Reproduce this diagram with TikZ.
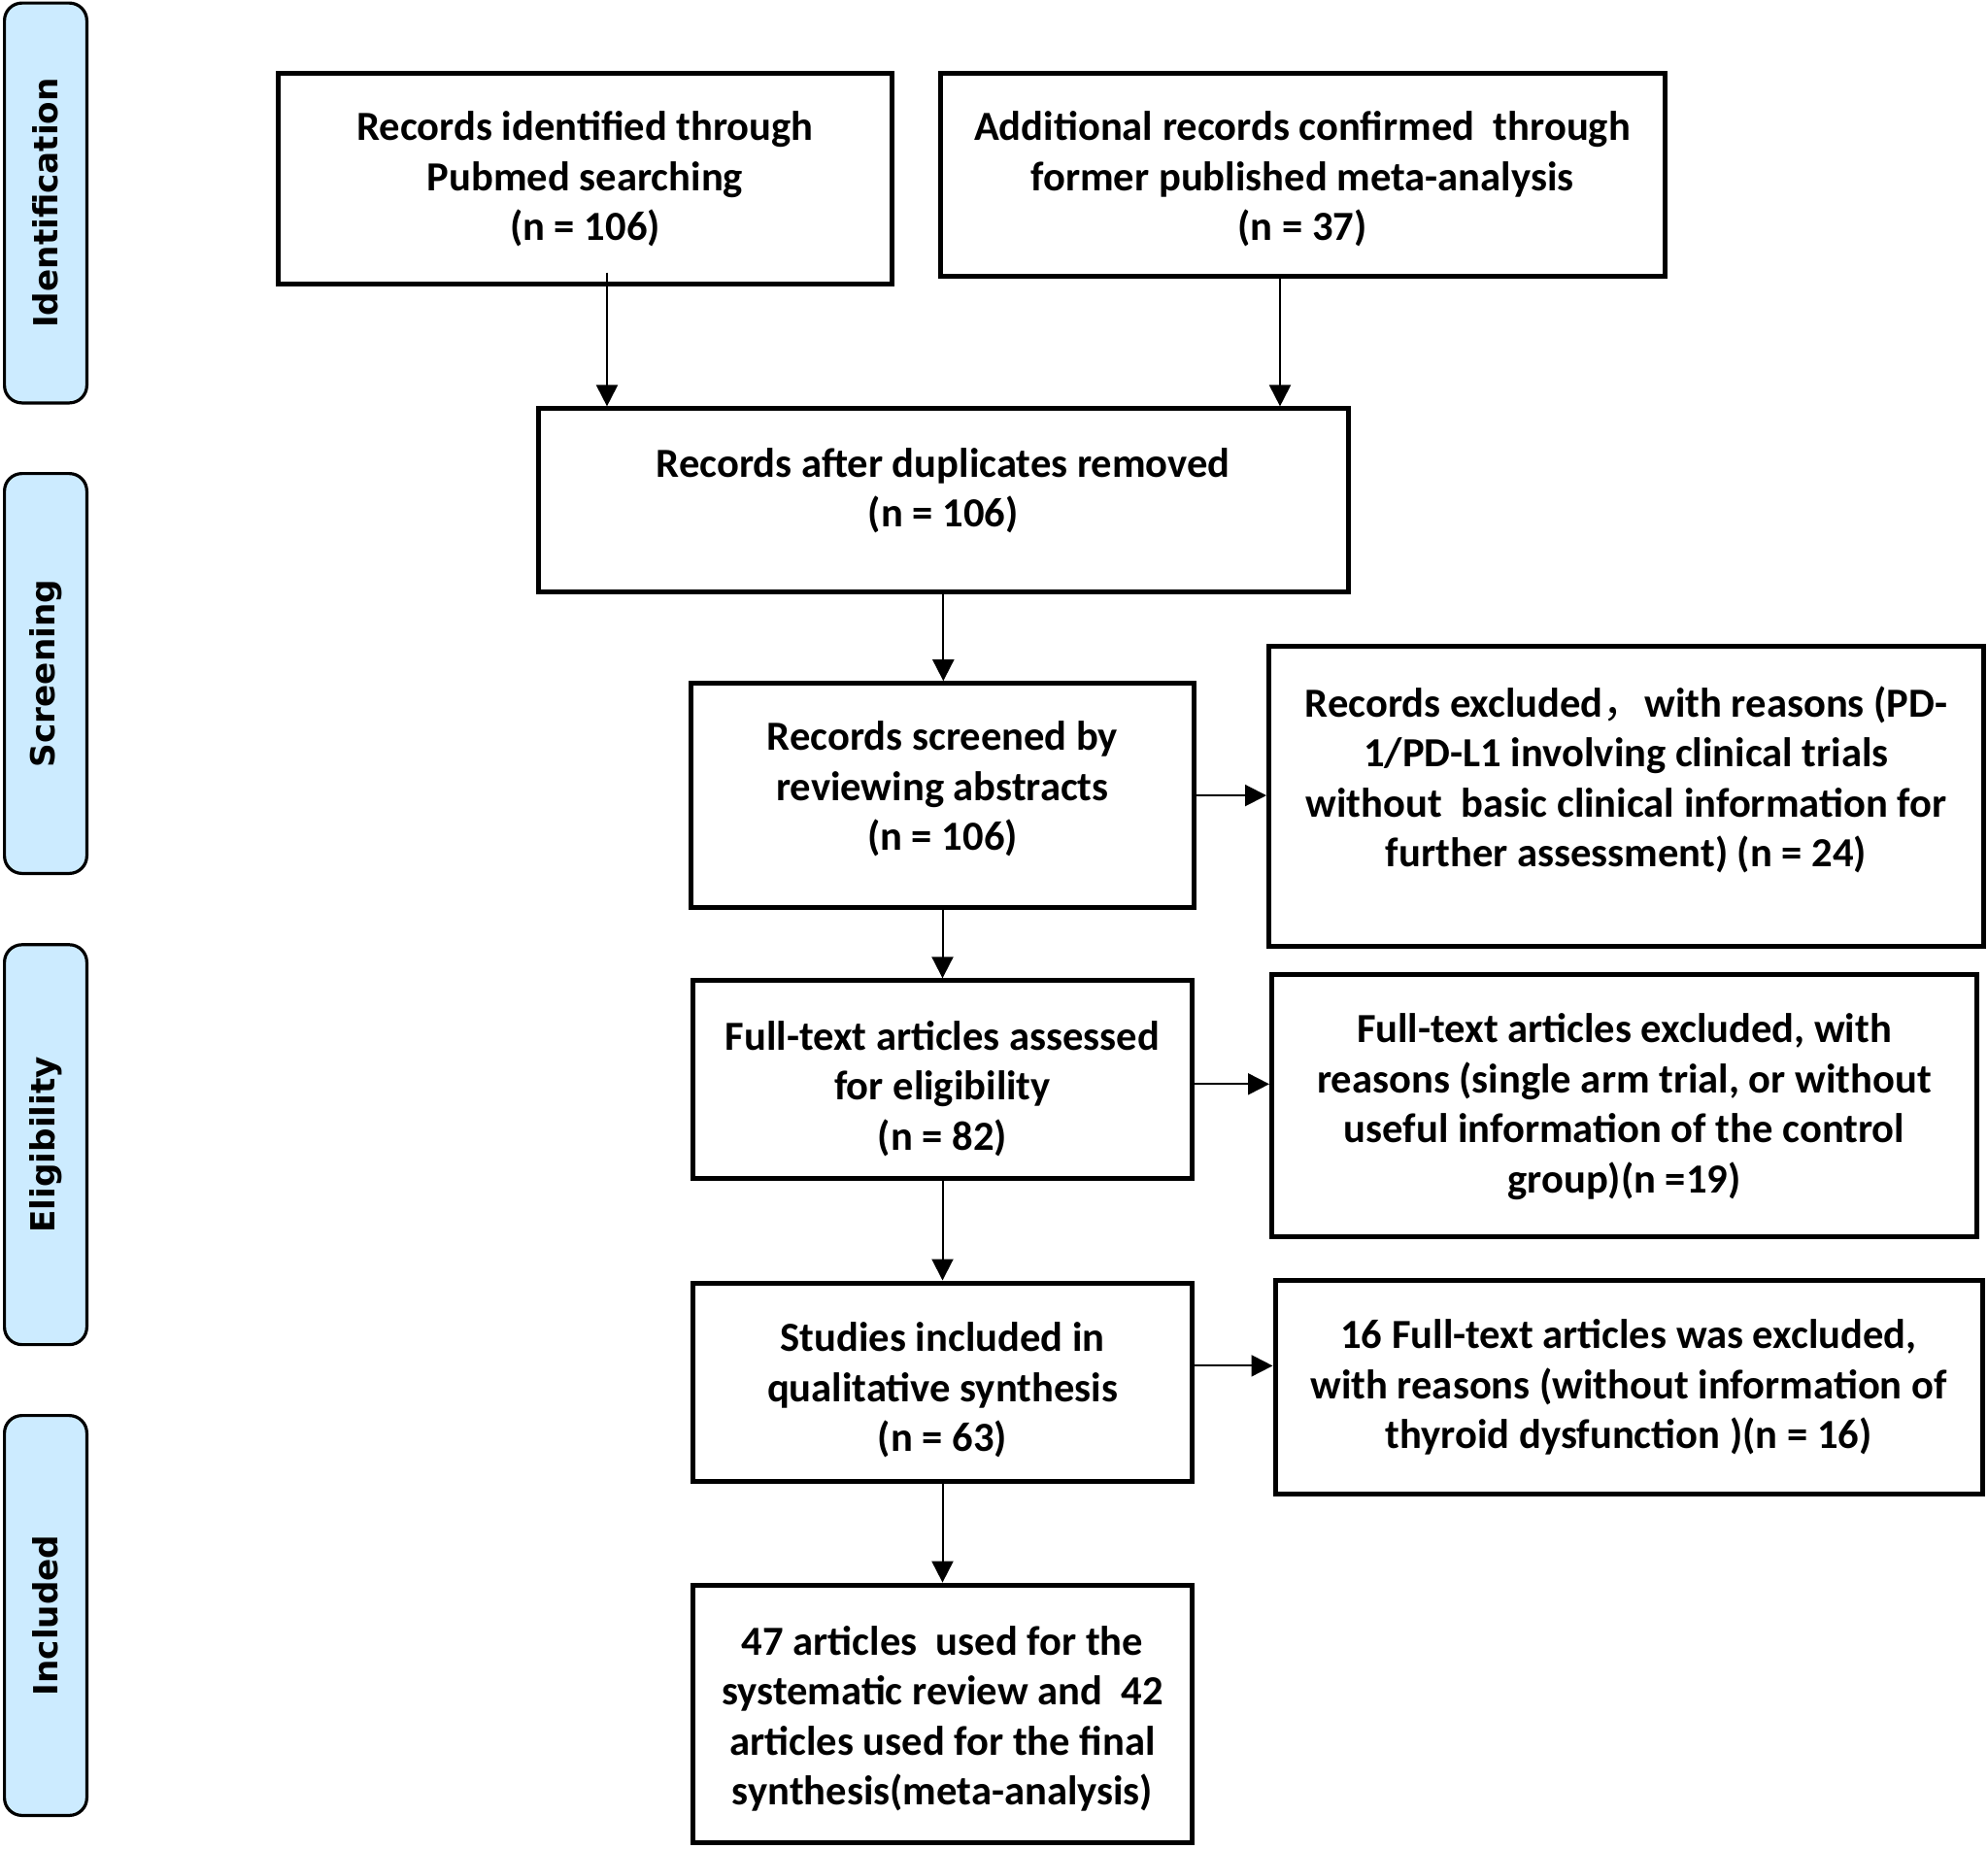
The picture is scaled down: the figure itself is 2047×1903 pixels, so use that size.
\documentclass[tikz,border=0pt]{standalone}
\usepackage{fontspec}
\setmainfont{Carlito}
\newfontfamily\sidefont{DejaVu Sans}
\newfontfamily\cjkfont{Noto Sans CJK SC}
\usetikzlibrary{arrows.meta,calc}
\definecolor{sideblue}{RGB}{204,235,255}
\begin{document}
\begin{tikzpicture}[x=0.5pt,y=-0.5pt,
  box/.style={draw, line width=2.5pt, rectangle, inner sep=0pt},
  txt/.style={align=center, inner sep=0pt, font=\bfseries\fontsize{21.3}{25.75}\selectfont},
  side/.style={draw, line width=1.6pt, fill=sideblue, rounded corners=9pt, rotate=90,
    minimum width=205.9pt, minimum height=42.4pt, inner sep=0pt,
    font=\sidefont\bfseries\fontsize{17.1}{20}\selectfont},
  arr/.style={line width=1pt, -{Triangle[length=11pt,width=11pt]}}]
\useasboundingbox (0,0) rectangle (2047,1903);

% side labels
\node[side] (s1) at (47,209) {Identification};
\node[side] (s2) at (47,693.5) {Screening};
\node[side] (s3) at (47,1178.7) {Eligibility};
\node[side] (s4) at (47,1663.5) {Included};

% boxes
\node[box, minimum width=316pt, minimum height=108.5pt] (A) at (602.5,183.7) {};
\node[box, minimum width=373pt, minimum height=104.4pt] (B) at (1341,179.6) {};
\node[box, minimum width=416.8pt, minimum height=94.4pt] (C) at (971.3,515.3) {};
\node[box, minimum width=259.4pt, minimum height=115.4pt] (D) at (970.5,819.1) {};
\node[box, minimum width=368pt, minimum height=154.2pt] (E) at (1674.5,820) {};
\node[box, minimum width=257.4pt, minimum height=102pt] (F) at (970.5,1111.8) {};
\node[box, minimum width=363pt, minimum height=134.9pt] (G) at (1672.5,1138.6) {};
\node[box, minimum width=257.4pt, minimum height=102.4pt] (H) at (970.5,1423.4) {};
\node[box, minimum width=364pt, minimum height=110pt] (I) at (1677,1428.4) {};
\node[box, minimum width=257.4pt, minimum height=132.6pt] (J) at (970.5,1764.7) {};

% texts
\node[txt] (At) at ($(A.center)+(0,1)$)
  {Records identified through\\Pubmed searching\\(n = 106)};
\node[txt] (Bt) at ($(B.center)+(0,5)$)
  {Additional records confirmed\ \ through\\former published meta-analysis\\(n = 37)};
\node[txt] (Ct) at ($(C.center)+(0,-10)$)
  {Records after duplicates removed\\(n = 106)};
\node[txt] (Dt) at ($(D.center)+(0,-6.5)$)
  {Records screened by\\reviewing abstracts\\(n = 106)};
\node[txt] (Et) at ($(E.center)+(0,-17)$)
  {Records excluded{\cjkfont\mdseries ，}with reasons (PD-\\1/PD-L1 involving clinical trials\\without\ \ basic clinical information for\\further assessment) (n = 24)};
\node[txt] (Ft) at ($(F.center)+(0,9)$)
  {Full-text articles assessed\\for eligibility\\(n = 82)};
\node[txt] (Gt) at ($(G.center)+(0,1)$)
  {Full-text articles excluded, with\\reasons (single arm trial, or without\\useful information of the control\\group)(n =19)};
\node[txt] (Ht) at ($(H.center)+(0,8)$)
  {Studies included in\\qualitative synthesis\\(n = 63)};
\node[txt] (It) at ($(I.center)+(0,0)$)
  {16 Full-text articles was excluded,\\with reasons (without information of\\thyroid dysfunction )(n = 16)};
\node[txt] (Jt) at ($(J.center)+(0,5)$)
  {47 articles\ \ used for the\\systematic review and\ \ 42\\articles used for the final\\synthesis(meta-analysis)};

% connectors
\coordinate (a1) at ($(A.south)+(22.5,-14)$);
\coordinate (b1) at ($(B.south)+(-23,0)$);
\draw[arr] (a1) -- (a1 |- C.north);
\draw[arr] (b1) -- (b1 |- C.north);
\draw[arr] (C.south) -- (C.south |- D.north);
\draw[arr] (D.east) -- (D.east -| E.west);
\draw[arr] (D.south) -- (D.south |- F.north);
\coordinate (f1) at ($(F.east)+(0,4.5)$);
\draw[arr] (f1) -- (f1 -| G.west);
\draw[arr] (F.south) -- (F.south |- H.north);
\coordinate (h1) at ($(H.east)+(0,-17)$);
\draw[arr] (h1) -- (h1 -| I.west);
\draw[arr] (H.south) -- (H.south |- J.north);
\end{tikzpicture}
\end{document}
